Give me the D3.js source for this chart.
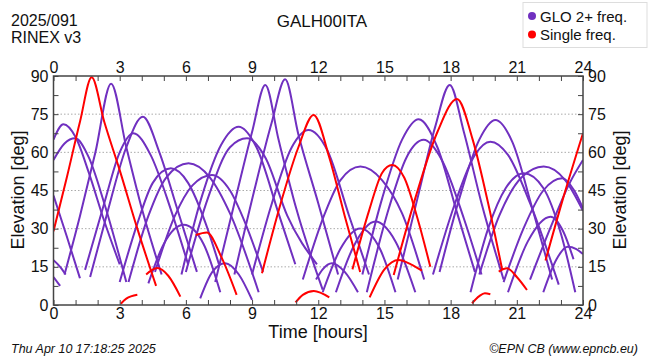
<!DOCTYPE html>
<html><head><meta charset="utf-8">
<script src="https://cdn.jsdelivr.net/npm/d3@7"></script>
<style>body{margin:0;background:#fff}svg{display:block;font-family:"Liberation Sans",Arial,sans-serif}</style>
</head><body><svg id="c" width="650" height="360"></svg>
<script>
const xTicks = [0,3,6,9,12,15,18,21,24];
const yTicks = [0,15,30,45,60,75,90];
const gridLevels = [15,30,45,60,75];
const seriesNames = ["GLO 2+ freq.","Single freq."];
const seriesColors = ["#7030c0","#ff0000"];

const purplePasses = [
 [[0,65],[0.45,71],[1.0,66],[1.6,52],[2.3,33],[3.0,16]],
 [[0,57],[0.5,63.5],[0.98,65.5],[1.6,58],[2.3,40],[3.3,9]],
 [[0,43],[0.6,27],[1.2,10.5]],
 [[0,17.6],[0.3,15],[0.55,12]],
 [[0,11],[0.3,7.5]],
 [[0.5,12],[1.2,35],[1.9,60],[2.61,87],[3.3,62],[4.0,38],[4.9,12]],
 [[1.66,11],[2.4,35],[3.3,62],[4.05,74],[4.8,60],[5.6,38],[6.5,13]],
 [[1.43,13.8],[2.3,40],[3.0,60],[3.62,67.5],[4.4,59],[5.3,38],[6.1,16]],
 [[3.0,9],[3.8,32],[4.5,48],[5.32,53.7],[6.1,48],[6.9,32],[7.5,16]],
 [[3.4,9],[4.3,35],[5.1,50],[6.12,55.7],[7.1,50],[8.0,36],[9.3,5]],
 [[4.6,13],[5.5,35],[6.3,47],[7.18,51.1],[8.0,45],[8.7,32],[9.5,13]],
 [[4.3,8.5],[5.0,24],[5.9,31.5],[6.8,24],[7.56,5]],
 [[6.65,2.6],[7.2,13],[7.78,16.4],[8.4,12],[9.0,2]],
 [[5.8,12],[6.7,42],[7.6,63],[8.39,70.1],[9.2,62],[10.2,36],[10.96,16]],
 [[6.0,13],[7.0,42],[8.0,62],[8.77,65.5],[9.6,58],[10.6,35],[11.94,16]],
 [[7.33,9],[8.2,40],[9.0,68],[9.6,86.5],[10.2,65],[11.0,38],[12.2,6]],
 [[8.2,12],[9.1,45],[9.9,72],[10.5,88.7],[11.1,67],[12.0,40],[12.9,12]],
 [[9.0,12],[9.9,40],[10.8,62],[11.56,68.8],[12.4,61],[13.4,35],[14.3,12]],
 [[11.3,10],[12.3,36],[13.0,49],[13.91,54.4],[14.9,49],[15.8,36],[16.8,10]],
 [[12.2,5],[13.0,22],[13.9,30.1],[14.8,22],[15.5,5]],
 [[12.8,5],[13.6,23],[14.59,32.8],[15.5,25],[16.4,5]],
 [[11.9,10],[12.2,14],[12.62,16.4],[13.2,13],[13.8,5]],
 [[14.0,12],[14.9,42],[15.8,65],[16.55,73],[17.4,62],[18.3,36],[19.1,13]],
 [[14.2,5],[15.2,38],[16.0,58],[16.78,64.9],[17.6,57],[18.6,34],[19.4,12]],
 [[15.6,10],[16.5,42],[17.3,70],[17.96,86.5],[18.6,68],[19.4,40],[20.4,10]],
 [[17.5,13],[18.4,42],[19.3,65],[20.03,72.7],[20.8,64],[21.7,38],[22.6,10]],
 [[17.2,12],[18.2,40],[19.1,59],[19.8,64.2],[20.6,59],[21.6,40],[22.9,8]],
 [[18.9,5],[19.7,30],[20.5,46],[21.32,51.8],[22.2,46],[23.0,28],[23.65,5]],
 [[19.3,12],[20.2,35],[21.2,50],[22.22,54.4],[23.2,49],[24,37]],
 [[20.4,9],[21.3,30],[22.2,45],[23.06,49.8],[23.6,45],[24,38]],
 [[20.6,5],[21.5,25],[22.53,34.7],[23.1,29],[23.57,18]],
 [[22.2,5],[22.8,18],[23.3,22.9],[23.7,22],[24,20]],
 [[21.6,10],[22.6,32],[23.4,48],[24,57]]
];
const redPasses = [
 [[0,29],[0.6,50],[1.2,72],[1.73,89.5],[2.3,72],[3.0,53],[3.8,30],[4.65,7.5]],
 [[3.05,0.5],[3.3,2.5],[3.8,4]],
 [[4.2,12],[4.7,14.5],[5.2,11.5],[5.75,3.3]],
 [[6.45,27.5],[6.95,28.5],[7.6,19],[8.3,4]],
 [[9.45,12.5],[10.3,40],[11.1,62],[11.79,74.7],[12.5,58],[13.2,35],[13.9,13]],
 [[10.97,1],[11.3,4],[11.8,5.5],[12.5,3]],
 [[13.55,14],[14.3,37],[14.9,52],[15.35,55],[15.9,50],[16.5,34],[17.08,15]],
 [[14.33,3],[15.0,14],[15.64,17.7],[16.2,16],[16.7,13.5]],
 [[15.42,11.8],[16.4,42],[17.4,68],[18.29,81],[19.0,65],[19.7,40],[20.34,13.8]],
 [[18.97,0.7],[19.3,3.5],[19.55,4.6],[19.8,4.2]],
 [[20.18,13.1],[20.56,14.4],[21.0,11],[21.46,5.9]],
 [[22.3,17.5],[23.1,42],[24,67.5]]
];

const svg = d3.select("#c");
const L=53.5, R=583, T=76, B=305;
const x = d3.scaleLinear().domain([0,24]).range([L,R]);
const y = d3.scaleLinear().domain([0,90]).range([B,T]);
const axisCol="#444";

svg.append("rect").attr("width",650).attr("height",360).attr("fill","#fff");

svg.append("g").selectAll("line").data(gridLevels).join("line")
  .attr("x1",L).attr("x2",R).attr("y1",d=>y(d)).attr("y2",d=>y(d))
  .attr("stroke","#aaa").attr("stroke-width",1).attr("stroke-dasharray","1.5,2");

svg.append("clipPath").attr("id","pc").append("rect")
  .attr("x",L).attr("y",T-3).attr("width",R-L).attr("height",B-T+3);

const line = d3.line().x(d=>x(d[0])).y(d=>y(d[1])).curve(d3.curveMonotoneX);
const g = svg.append("g").attr("clip-path","url(#pc)");
g.selectAll("path.p").data(purplePasses).join("path").attr("class","p")
  .attr("d",line).attr("fill","none").attr("stroke",seriesColors[0]).attr("stroke-width",2);
g.selectAll("path.r").data(redPasses).join("path").attr("class","r")
  .attr("d",line).attr("fill","none").attr("stroke",seriesColors[1]).attr("stroke-width",2);

const fs = "16px";
const fmt = d=>xTicks.includes(d)?d:"";
const fmtY = d=>yTicks.includes(d)?d:"";
const xb = d3.axisBottom(x).tickValues(d3.range(0,25,1)).tickSize(-5).tickFormat(fmt).tickPadding(3);
const xt = d3.axisTop(x).tickValues(d3.range(0,25,1)).tickSize(-5).tickFormat(fmt).tickPadding(3);
const yl = d3.axisLeft(y).tickValues(d3.range(0,91,7.5)).tickSize(-5).tickFormat(fmtY).tickPadding(5);
const yr = d3.axisRight(y).tickValues(d3.range(0,91,7.5)).tickSize(-5).tickFormat(fmtY).tickPadding(5);
function style(sel){
  sel.select(".domain").remove();
  sel.selectAll("line").attr("stroke",axisCol).attr("stroke-width",1);
  sel.selectAll("text").attr("fill","#111").style("font-size",fs).style("font-family","Liberation Sans, Arial, sans-serif");
}
svg.append("g").attr("transform",`translate(0,${B})`).call(xb).call(style);
svg.append("g").attr("transform",`translate(0,${T})`).call(xt).call(style);
svg.append("g").attr("transform",`translate(${L},0)`).call(yl).call(style);
svg.append("g").attr("transform",`translate(${R},0)`).call(yr).call(style);

svg.append("rect").attr("x",L).attr("y",T).attr("width",R-L).attr("height",B-T)
  .attr("fill","none").attr("stroke",axisCol).attr("stroke-width",1.5);

const tx=(t,xx,yy,opt={})=>{const e=svg.append("text").attr("x",xx).attr("y",yy).text(t)
  .attr("fill","#111").style("font-size",opt.size||"16px");
  if(opt.anchor) e.attr("text-anchor",opt.anchor);
  if(opt.italic) e.style("font-style","italic");
  if(opt.rot!=null) e.attr("transform",`rotate(${opt.rot},${xx},${yy})`);
  return e;};
tx("2025/091",11,26,{size:"16px"});
tx("RINEX v3",11,43,{size:"16px"});
tx("GALH00ITA",322,27,{size:"17px",anchor:"middle"});
tx("Time [hours]",318,338,{size:"18px",anchor:"middle"});
tx("Elevation [deg]",24,190,{size:"18px",anchor:"middle",rot:-90});
tx("Elevation [deg]",626,190,{size:"18px",anchor:"middle",rot:-90});
tx("Thu Apr 10 17:18:25 2025",11,353,{size:"12.5px",italic:true});
tx("©EPN CB (www.epncb.eu)",638,353,{size:"12.5px",italic:true,anchor:"end"});

const lg = svg.append("g");
lg.append("rect").attr("x",523).attr("y",2.5).attr("width",124).attr("height",45)
  .attr("fill","#fff").attr("stroke","#ddd").attr("stroke-width",1);
seriesNames.forEach((n,i)=>{
  lg.append("circle").attr("cx",532).attr("cy",16+i*18.5).attr("r",4).attr("fill",seriesColors[i]);
  lg.append("text").attr("x",540).attr("y",21.5+i*18.5).text(n).attr("fill","#111").style("font-size","15px");
});
</script></body></html>
